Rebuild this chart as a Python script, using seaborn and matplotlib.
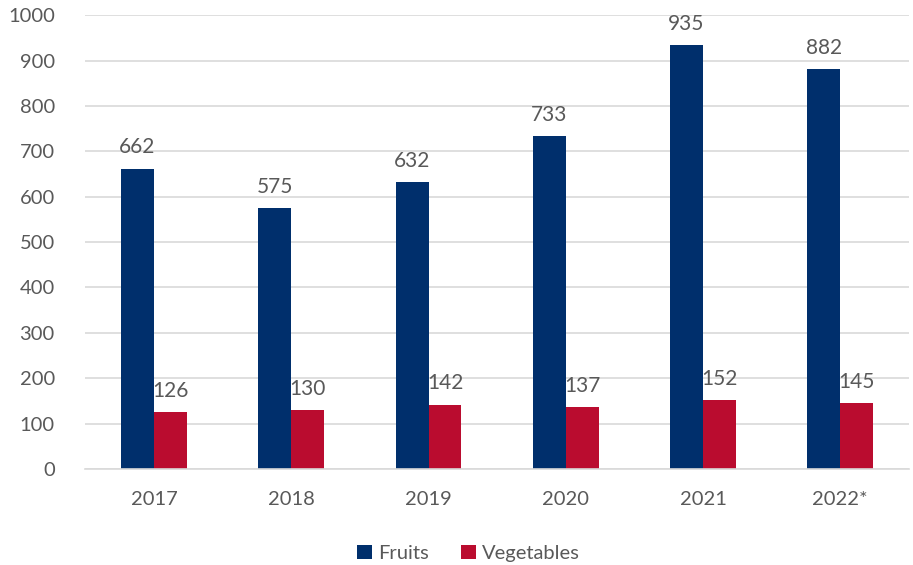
import numpy as np, pandas as pd
import matplotlib
matplotlib.use("Agg")
import matplotlib.pyplot as plt
import seaborn as sns

years = ["2017", "2018", "2019", "2020", "2021", "2022*"]
fruits = [662, 575, 632, 733, 935, 882]
vegetables = [126, 130, 142, 137, 152, 145]

BLUE = "#002F6C"
RED = "#BA0C2F"
GREY = "#595959"

df = pd.DataFrame({
    "year": years * 2,
    "value": fruits + vegetables,
    "kind": ["Fruits"] * len(years) + ["Vegetables"] * len(years),
})

sns.set_style("white")
plt.rcParams["font.family"] = ["Lato", "DejaVu Sans"]

fig = plt.figure(figsize=(9.13, 5.65), dpi=100)
ax = fig.add_axes([0.0935, 0.170, 0.902, 0.803])

sns.barplot(data=df, x="year", y="value", hue="kind", order=years,
            palette=[BLUE, RED], width=0.48, saturation=1, linewidth=0, ax=ax)

for c in ax.containers:
    ax.bar_label(c, padding=8, fontsize=15, color=GREY)

ax.set_ylim(0, 1000)
ax.set_yticks(range(0, 1001, 100))
ax.yaxis.grid(True, color="#D9D9D9", linewidth=1.2)
ax.set_axisbelow(True)
for s in ["left", "right", "top"]:
    ax.spines[s].set_visible(False)
ax.spines["bottom"].set_color("#D9D9D9")
ax.spines["bottom"].set_linewidth(1.2)
ax.tick_params(axis="both", length=0, labelsize=14.5, labelcolor=GREY)
ax.tick_params(axis="x", pad=16)
ax.tick_params(axis="y", pad=22)
ax.set_xlabel("")
ax.set_ylabel("")

ax.legend(loc="lower center", bbox_to_anchor=(0.465, -0.245), ncol=2, frameon=False,
          fontsize=14.5, labelcolor=GREY, handlelength=0.75, handleheight=0.75,
          handletextpad=0.3, columnspacing=1.6)

fig.savefig("out.png", dpi=100)
